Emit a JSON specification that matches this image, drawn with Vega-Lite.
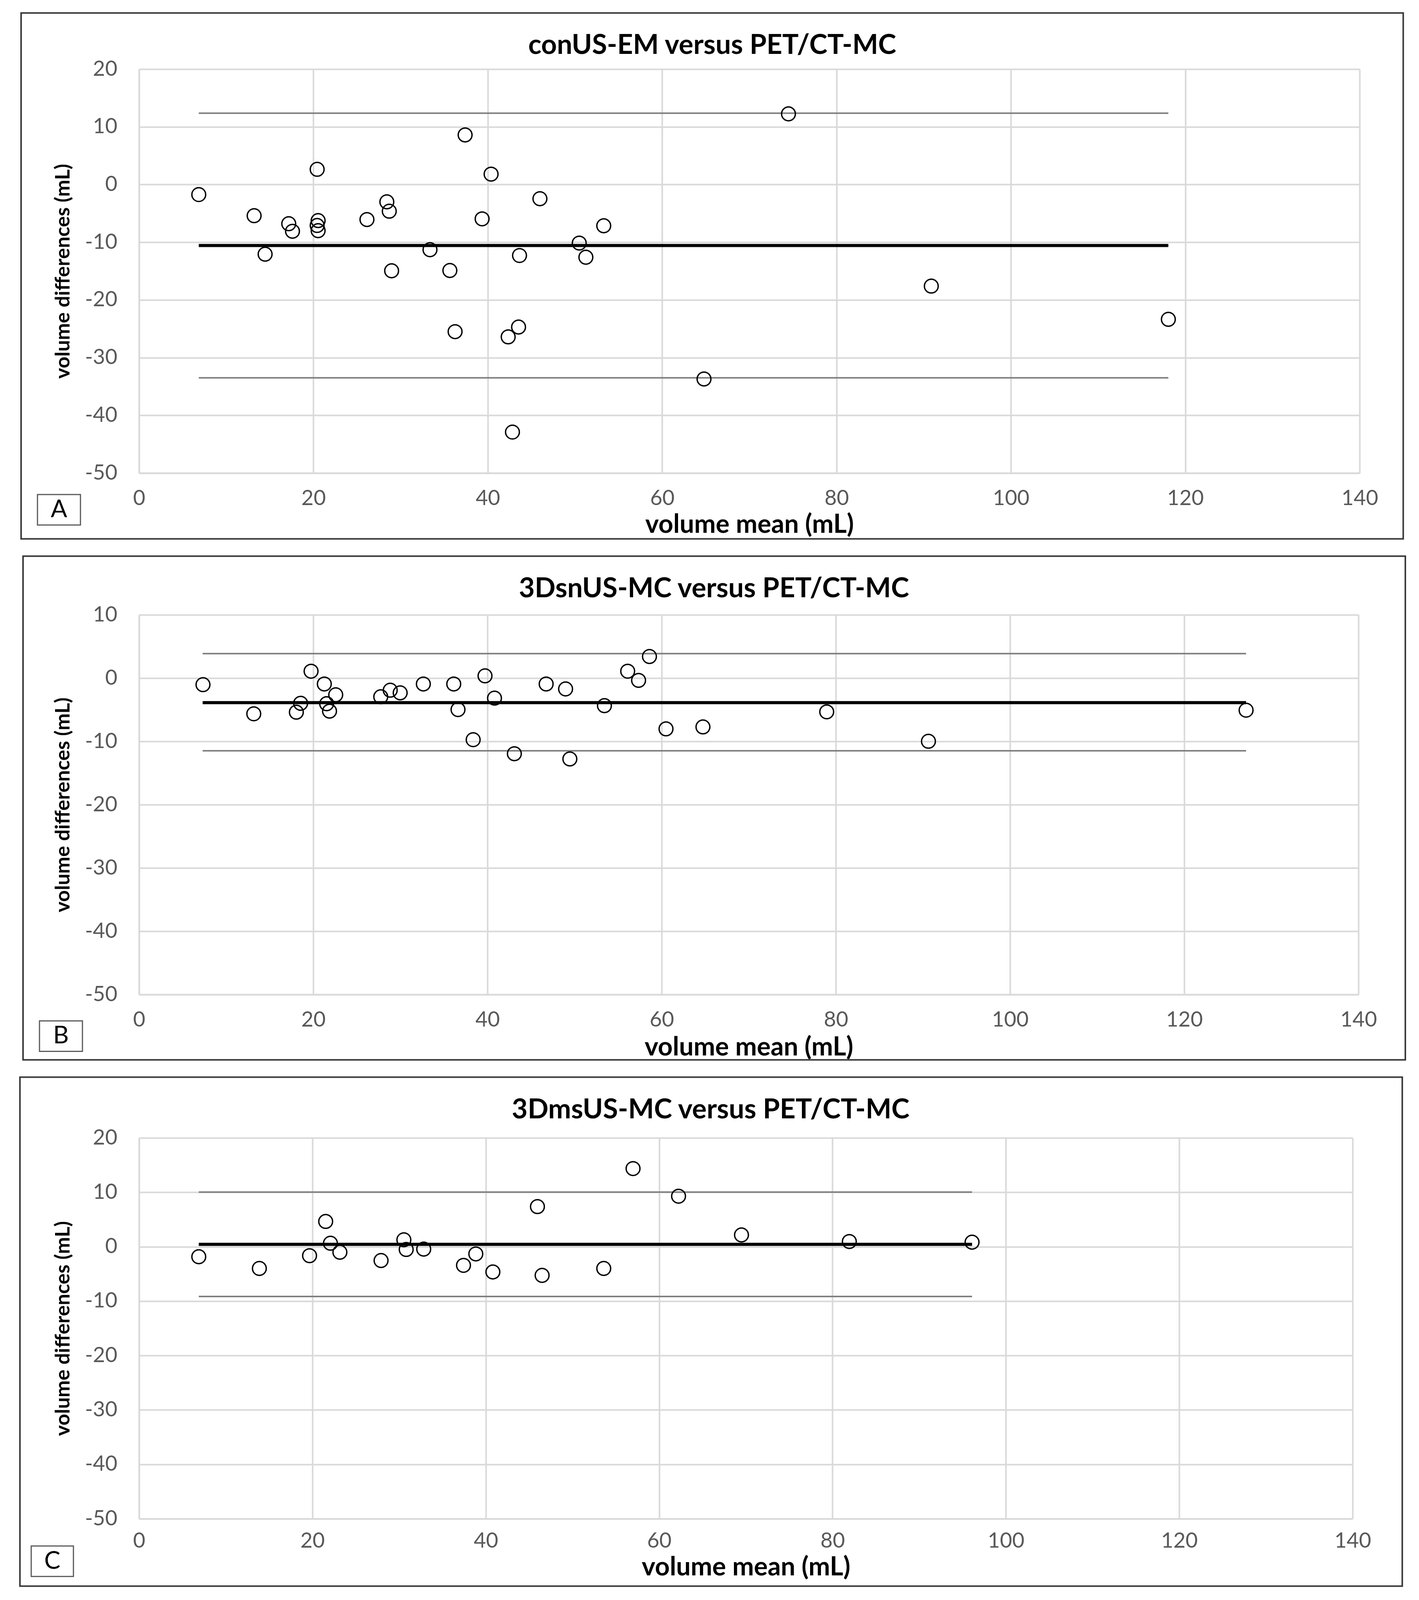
{
  "$schema": "https://vega.github.io/schema/vega-lite/v6.json",
  "background": "white",
  "padding": {"left": 49, "top": 31, "right": 0, "bottom": 0},
  "spacing": 39,
  "datasets": {
    "points": [
      {"panel": "A", "mean": 6.85, "diff": -1.74},
      {"panel": "A", "mean": 13.2, "diff": -5.4},
      {"panel": "A", "mean": 14.46, "diff": -12.07},
      {"panel": "A", "mean": 17.17, "diff": -6.79},
      {"panel": "A", "mean": 17.6, "diff": -8.1},
      {"panel": "A", "mean": 20.43, "diff": 2.64},
      {"panel": "A", "mean": 20.54, "diff": -6.25},
      {"panel": "A", "mean": 20.43, "diff": -7.09},
      {"panel": "A", "mean": 20.54, "diff": -7.99},
      {"panel": "A", "mean": 26.14, "diff": -6.07},
      {"panel": "A", "mean": 28.42, "diff": -3.0},
      {"panel": "A", "mean": 28.7, "diff": -4.62},
      {"panel": "A", "mean": 28.97, "diff": -14.95},
      {"panel": "A", "mean": 33.37, "diff": -11.29},
      {"panel": "A", "mean": 35.65, "diff": -14.9},
      {"panel": "A", "mean": 36.25, "diff": -25.5},
      {"panel": "A", "mean": 37.4, "diff": 8.59},
      {"panel": "A", "mean": 39.35, "diff": -5.95},
      {"panel": "A", "mean": 40.38, "diff": 1.8},
      {"panel": "A", "mean": 42.34, "diff": -26.4},
      {"panel": "A", "mean": 43.53, "diff": -24.7},
      {"panel": "A", "mean": 42.83, "diff": -42.9},
      {"panel": "A", "mean": 43.64, "diff": -12.3},
      {"panel": "A", "mean": 45.98, "diff": -2.46},
      {"panel": "A", "mean": 50.49, "diff": -10.15},
      {"panel": "A", "mean": 51.25, "diff": -12.6},
      {"panel": "A", "mean": 53.3, "diff": -7.15},
      {"panel": "A", "mean": 64.8, "diff": -33.7},
      {"panel": "A", "mean": 74.49, "diff": 12.25},
      {"panel": "A", "mean": 90.87, "diff": -17.6},
      {"panel": "A", "mean": 118.06, "diff": -23.36},
      {"panel": "B", "mean": 7.34, "diff": -1.03},
      {"panel": "B", "mean": 13.17, "diff": -5.64},
      {"panel": "B", "mean": 18.06, "diff": -5.38},
      {"panel": "B", "mean": 18.55, "diff": -3.98},
      {"panel": "B", "mean": 19.75, "diff": 1.09},
      {"panel": "B", "mean": 21.27, "diff": -0.93},
      {"panel": "B", "mean": 21.54, "diff": -4.04},
      {"panel": "B", "mean": 21.87, "diff": -5.22},
      {"panel": "B", "mean": 22.58, "diff": -2.64},
      {"panel": "B", "mean": 27.75, "diff": -2.95},
      {"panel": "B", "mean": 28.84, "diff": -1.91},
      {"panel": "B", "mean": 29.98, "diff": -2.33},
      {"panel": "B", "mean": 32.64, "diff": -0.93},
      {"panel": "B", "mean": 36.13, "diff": -0.93},
      {"panel": "B", "mean": 36.62, "diff": -4.97},
      {"panel": "B", "mean": 38.36, "diff": -9.73},
      {"panel": "B", "mean": 39.72, "diff": 0.36},
      {"panel": "B", "mean": 40.81, "diff": -3.16},
      {"panel": "B", "mean": 43.09, "diff": -11.95},
      {"panel": "B", "mean": 46.74, "diff": -0.93},
      {"panel": "B", "mean": 48.97, "diff": -1.71},
      {"panel": "B", "mean": 49.46, "diff": -12.78},
      {"panel": "B", "mean": 53.43, "diff": -4.35},
      {"panel": "B", "mean": 56.1, "diff": 1.09},
      {"panel": "B", "mean": 57.35, "diff": -0.36},
      {"panel": "B", "mean": 58.6, "diff": 3.41},
      {"panel": "B", "mean": 60.5, "diff": -8.02},
      {"panel": "B", "mean": 64.74, "diff": -7.71},
      {"panel": "B", "mean": 78.95, "diff": -5.33},
      {"panel": "B", "mean": 90.63, "diff": -9.98},
      {"panel": "B", "mean": 127.1, "diff": -5.07},
      {"panel": "C", "mean": 6.89, "diff": -1.84},
      {"panel": "C", "mean": 13.88, "diff": -4.0},
      {"panel": "C", "mean": 19.67, "diff": -1.65},
      {"panel": "C", "mean": 21.53, "diff": 4.64},
      {"panel": "C", "mean": 22.08, "diff": 0.64},
      {"panel": "C", "mean": 23.17, "diff": -1.02},
      {"panel": "C", "mean": 27.92, "diff": -2.54},
      {"panel": "C", "mean": 30.55, "diff": 1.27},
      {"panel": "C", "mean": 30.82, "diff": -0.51},
      {"panel": "C", "mean": 32.84, "diff": -0.44},
      {"panel": "C", "mean": 37.43, "diff": -3.43},
      {"panel": "C", "mean": 38.85, "diff": -1.33},
      {"panel": "C", "mean": 40.82, "diff": -4.64},
      {"panel": "C", "mean": 45.96, "diff": 7.37},
      {"panel": "C", "mean": 46.5, "diff": -5.27},
      {"panel": "C", "mean": 53.61, "diff": -4.0},
      {"panel": "C", "mean": 56.99, "diff": 14.36},
      {"panel": "C", "mean": 62.24, "diff": 9.28},
      {"panel": "C", "mean": 69.5, "diff": 2.16},
      {"panel": "C", "mean": 81.94, "diff": 0.95},
      {"panel": "C", "mean": 96.1, "diff": 0.83}
    ],
    "limits": [
      {"panel": "A", "kind": "upper", "start": 6.85, "end": 118.06, "value": 12.37},
      {"panel": "A", "kind": "mean", "start": 6.85, "end": 118.06, "value": -10.57},
      {"panel": "A", "kind": "lower", "start": 6.85, "end": 118.06, "value": -33.5},
      {"panel": "B", "kind": "upper", "start": 7.3, "end": 127.1, "value": 3.88},
      {"panel": "B", "kind": "mean", "start": 7.3, "end": 127.1, "value": -3.88},
      {"panel": "B", "kind": "lower", "start": 7.3, "end": 127.1, "value": -11.48},
      {"panel": "C", "kind": "upper", "start": 6.89, "end": 96.1, "value": 10.04},
      {"panel": "C", "kind": "mean", "start": 6.89, "end": 96.1, "value": 0.44},
      {"panel": "C", "kind": "lower", "start": 6.89, "end": 96.1, "value": -9.15}
    ]
  },
  "vconcat": [
    {
      "width": 3125,
      "height": 1034,
      "title": {"text": "conUS-EM versus PET/CT-MC", "dx": -95, "offset": -122},
      "layer": [
        {
          "data": {"values": [{}]},
          "mark": {"type": "rect", "filled": false, "stroke": "#3a3a3a", "strokeWidth": 4, "clip": false},
          "encoding": {
            "x": {"datum": -13.53, "type": "quantitative", "scale": {"domain": [0, 140], "nice": false, "zero": false}, "title": "volume mean (mL)"},
            "x2": {"datum": 145.0},
            "y": {"datum": 29.74, "type": "quantitative", "scale": {"domain": [-50, 20], "nice": false, "zero": false}, "title": "volume differences (mL)"},
            "y2": {"datum": -61.41}
          }
        },
        {
          "data": {"values": [{}]},
          "mark": {"type": "rect", "filled": false, "stroke": "#595959", "strokeWidth": 3, "clip": false},
          "encoding": {
            "x": {"datum": -11.65, "type": "quantitative", "title": "volume mean (mL)"},
            "x2": {"datum": -6.72},
            "y": {"datum": -53.72, "type": "quantitative", "title": "volume differences (mL)"},
            "y2": {"datum": -59.0}
          }
        },
        {
          "data": {"values": [{}]},
          "mark": {"type": "text", "text": "A", "font": "Lato", "fontSize": 62, "color": "#000000", "align": "center", "baseline": "middle", "clip": false},
          "encoding": {
            "x": {"datum": -9.19, "type": "quantitative", "title": "volume mean (mL)"},
            "y": {"datum": -56.36, "type": "quantitative", "title": "volume differences (mL)"}
          }
        },
        {
          "data": {"name": "limits"},
          "transform": [{"filter": "datum.panel === 'A' && datum.kind !== 'mean'"}],
          "mark": {"type": "rule", "stroke": "#808080", "strokeWidth": 4},
          "encoding": {
            "x": {"field": "start", "type": "quantitative", "title": "volume mean (mL)"},
            "x2": {"field": "end"},
            "y": {"field": "value", "type": "quantitative", "title": "volume differences (mL)"}
          }
        },
        {
          "data": {"name": "limits"},
          "transform": [{"filter": "datum.panel === 'A' && datum.kind === 'mean'"}],
          "mark": {"type": "rule", "stroke": "#000000", "strokeWidth": 8},
          "encoding": {
            "x": {"field": "start", "type": "quantitative", "title": "volume mean (mL)"},
            "x2": {"field": "end"},
            "y": {"field": "value", "type": "quantitative", "title": "volume differences (mL)"}
          }
        },
        {
          "data": {"name": "points"},
          "transform": [{"filter": "datum.panel === 'A'"}],
          "mark": {"type": "point", "shape": "circle", "filled": false, "stroke": "#000000", "strokeWidth": 3.5, "size": 1250, "opacity": 1},
          "encoding": {
            "x": {"field": "mean", "type": "quantitative", "scale": {"domain": [0, 140], "nice": false, "zero": false}, "title": "volume mean (mL)", "axis": {"titlePadding": 8}},
            "y": {"field": "diff", "type": "quantitative", "scale": {"domain": [-50, 20], "nice": false, "zero": false}, "title": "volume differences (mL)"}
          }
        }
      ]
    },
    {
      "width": 3122,
      "height": 972,
      "title": {"text": "3DsnUS-MC versus PET/CT-MC", "dx": -89, "offset": -122},
      "layer": [
        {
          "data": {"values": [{}]},
          "mark": {"type": "rect", "filled": false, "stroke": "#3a3a3a", "strokeWidth": 4, "clip": false},
          "encoding": {
            "x": {"datum": -13.32, "type": "quantitative", "scale": {"domain": [0, 140], "nice": false, "zero": false}, "title": "volume mean (mL)"},
            "x2": {"datum": 145.38},
            "y": {"datum": 19.27, "type": "quantitative", "scale": {"domain": [-50, 10], "nice": false, "zero": false}, "title": "volume differences (mL)"},
            "y2": {"datum": -60.32}
          }
        },
        {
          "data": {"values": [{}]},
          "mark": {"type": "rect", "filled": false, "stroke": "#595959", "strokeWidth": 3, "clip": false},
          "encoding": {
            "x": {"datum": -11.43, "type": "quantitative", "title": "volume mean (mL)"},
            "x2": {"datum": -6.5},
            "y": {"datum": -54.16, "type": "quantitative", "title": "volume differences (mL)"},
            "y2": {"datum": -58.98}
          }
        },
        {
          "data": {"values": [{}]},
          "mark": {"type": "text", "text": "B", "font": "Lato", "fontSize": 62, "color": "#000000", "align": "center", "baseline": "middle", "clip": false},
          "encoding": {
            "x": {"datum": -8.97, "type": "quantitative", "title": "volume mean (mL)"},
            "y": {"datum": -56.57, "type": "quantitative", "title": "volume differences (mL)"}
          }
        },
        {
          "data": {"name": "limits"},
          "transform": [{"filter": "datum.panel === 'B' && datum.kind !== 'mean'"}],
          "mark": {"type": "rule", "stroke": "#808080", "strokeWidth": 4},
          "encoding": {
            "x": {"field": "start", "type": "quantitative", "title": "volume mean (mL)"},
            "x2": {"field": "end"},
            "y": {"field": "value", "type": "quantitative", "title": "volume differences (mL)"}
          }
        },
        {
          "data": {"name": "limits"},
          "transform": [{"filter": "datum.panel === 'B' && datum.kind === 'mean'"}],
          "mark": {"type": "rule", "stroke": "#000000", "strokeWidth": 8},
          "encoding": {
            "x": {"field": "start", "type": "quantitative", "title": "volume mean (mL)"},
            "x2": {"field": "end"},
            "y": {"field": "value", "type": "quantitative", "title": "volume differences (mL)"}
          }
        },
        {
          "data": {"name": "points"},
          "transform": [{"filter": "datum.panel === 'B'"}],
          "mark": {"type": "point", "shape": "circle", "filled": false, "stroke": "#000000", "strokeWidth": 3.5, "size": 1250, "opacity": 1},
          "encoding": {
            "x": {"field": "mean", "type": "quantitative", "scale": {"domain": [0, 140], "nice": false, "zero": false}, "title": "volume mean (mL)", "axis": {"titlePadding": 11}},
            "y": {"field": "diff", "type": "quantitative", "scale": {"domain": [-50, 10], "nice": false, "zero": false}, "title": "volume differences (mL)"}
          }
        }
      ]
    },
    {
      "width": 3107,
      "height": 975,
      "title": {"text": "3DmsUS-MC versus PET/CT-MC", "dx": -90, "offset": -122},
      "layer": [
        {
          "data": {"values": [{}]},
          "mark": {"type": "rect", "filled": false, "stroke": "#3a3a3a", "strokeWidth": 4, "clip": false},
          "encoding": {
            "x": {"datum": -13.74, "type": "quantitative", "scale": {"domain": [0, 140], "nice": false, "zero": false}, "title": "volume mean (mL)"},
            "x2": {"datum": 145.73},
            "y": {"datum": 31.16, "type": "quantitative", "scale": {"domain": [-50, 20], "nice": false, "zero": false}, "title": "volume differences (mL)"},
            "y2": {"datum": -62.38}
          }
        },
        {
          "data": {"values": [{}]},
          "mark": {"type": "rect", "filled": false, "stroke": "#595959", "strokeWidth": 3, "clip": false},
          "encoding": {
            "x": {"datum": -12.44, "type": "quantitative", "title": "volume mean (mL)"},
            "x2": {"datum": -7.57},
            "y": {"datum": -55.0, "type": "quantitative", "title": "volume differences (mL)"},
            "y2": {"datum": -60.6}
          }
        },
        {
          "data": {"values": [{}]},
          "mark": {"type": "text", "text": "C", "font": "Lato", "fontSize": 62, "color": "#000000", "align": "center", "baseline": "middle", "clip": false},
          "encoding": {
            "x": {"datum": -10.0, "type": "quantitative", "title": "volume mean (mL)"},
            "y": {"datum": -57.8, "type": "quantitative", "title": "volume differences (mL)"}
          }
        },
        {
          "data": {"name": "limits"},
          "transform": [{"filter": "datum.panel === 'C' && datum.kind !== 'mean'"}],
          "mark": {"type": "rule", "stroke": "#808080", "strokeWidth": 4},
          "encoding": {
            "x": {"field": "start", "type": "quantitative", "title": "volume mean (mL)"},
            "x2": {"field": "end"},
            "y": {"field": "value", "type": "quantitative", "title": "volume differences (mL)"}
          }
        },
        {
          "data": {"name": "limits"},
          "transform": [{"filter": "datum.panel === 'C' && datum.kind === 'mean'"}],
          "mark": {"type": "rule", "stroke": "#000000", "strokeWidth": 8},
          "encoding": {
            "x": {"field": "start", "type": "quantitative", "title": "volume mean (mL)"},
            "x2": {"field": "end"},
            "y": {"field": "value", "type": "quantitative", "title": "volume differences (mL)"}
          }
        },
        {
          "data": {"name": "points"},
          "transform": [{"filter": "datum.panel === 'C'"}],
          "mark": {"type": "point", "shape": "circle", "filled": false, "stroke": "#000000", "strokeWidth": 3.5, "size": 1250, "opacity": 1},
          "encoding": {
            "x": {"field": "mean", "type": "quantitative", "scale": {"domain": [0, 140], "nice": false, "zero": false}, "title": "volume mean (mL)", "axis": {"labelPadding": 30, "titlePadding": 8}},
            "y": {"field": "diff", "type": "quantitative", "scale": {"domain": [-50, 20], "nice": false, "zero": false}, "title": "volume differences (mL)"}
          }
        }
      ]
    }
  ],
  "config": {
    "font": "Lato",
    "view": {"stroke": null},
    "title": {"font": "Lato", "fontSize": 70, "fontWeight": "bold", "color": "#000000", "anchor": "middle", "frame": "group", "baseline": "middle"},
    "axis": {
      "grid": true,
      "gridColor": "#d9d9d9",
      "gridWidth": 4,
      "domainColor": "#d9d9d9",
      "domainWidth": 4,
      "ticks": false,
      "labelFont": "Lato",
      "labelFontSize": 54,
      "labelColor": "#595959",
      "labelFlush": false,
      "labelExpr": "replace(datum.label, '\u2212', '-')",
      "titleFont": "Lato",
      "titleFontSize": 66,
      "titleFontWeight": "bold",
      "titleColor": "#000000"
    },
    "axisX": {"tickCount": 7, "labelPadding": 38},
    "axisY": {"tickCount": 7, "labelPadding": 56, "titlePadding": 29, "titleFontSize": 52}
  }
}
